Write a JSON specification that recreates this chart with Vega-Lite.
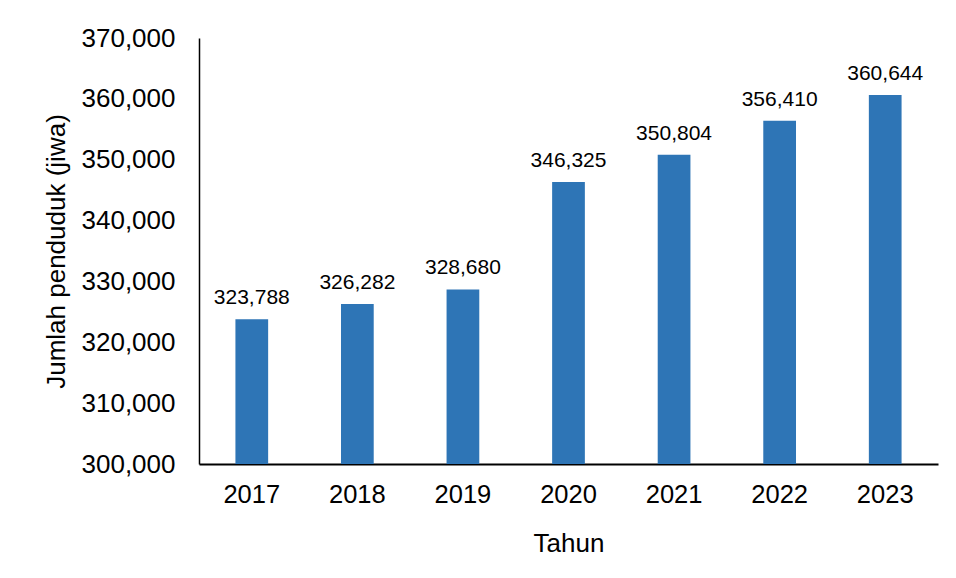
{
  "$schema": "https://vega.github.io/schema/vega-lite/v6.json",
  "autosize": "none",
  "width": 739,
  "height": 426,
  "padding": {"left": 199, "top": 38, "right": 18, "bottom": 114},
  "background": "white",
  "config": {
    "view": {"stroke": null},
    "font": "Liberation Sans",
    "axis": {"labelFont": "Liberation Sans", "titleFont": "Liberation Sans", "labelColor": "black", "titleColor": "black", "titleFontWeight": "normal"}
  },
  "data": {
    "values": [
      {"Tahun": "2017", "Jumlah": 323788},
      {"Tahun": "2018", "Jumlah": 326282},
      {"Tahun": "2019", "Jumlah": 328680},
      {"Tahun": "2020", "Jumlah": 346325},
      {"Tahun": "2021", "Jumlah": 350804},
      {"Tahun": "2022", "Jumlah": 356410},
      {"Tahun": "2023", "Jumlah": 360644}
    ]
  },
  "encoding": {
    "x": {
      "field": "Tahun", "type": "ordinal",
      "scale": {"paddingInner": 0.69, "paddingOuter": 0.345},
      "axis": {
        "title": "Tahun", "labelAngle": 0, "ticks": false, "tickSize": 0,
        "domainColor": "black", "domainWidth": 2,
        "labelFontSize": 25.5, "labelPadding": 18,
        "titleFontSize": 26, "titlePadding": 23
      }
    },
    "y": {
      "field": "Jumlah", "type": "quantitative",
      "scale": {"domain": [300000, 370000], "zero": false, "nice": false},
      "axis": {
        "title": "Jumlah penduduk (jiwa)", "values": [300000, 310000, 320000, 330000, 340000, 350000, 360000, 370000],
        "format": ",.0f", "grid": false, "ticks": false, "tickSize": 0,
        "domainColor": "black", "domainWidth": 1.5,
        "labelFontSize": 26, "labelPadding": 24,
        "titleFontSize": 26, "titlePadding": 12
      }
    }
  },
  "layer": [
    {"mark": {"type": "bar", "color": "#2E75B6", "clip": true}},
    {
      "mark": {"type": "text", "baseline": "alphabetic", "dy": -15, "fontSize": 21, "color": "black"},
      "encoding": {"text": {"field": "Jumlah", "type": "quantitative", "format": ",.0f"}}
    }
  ]
}
